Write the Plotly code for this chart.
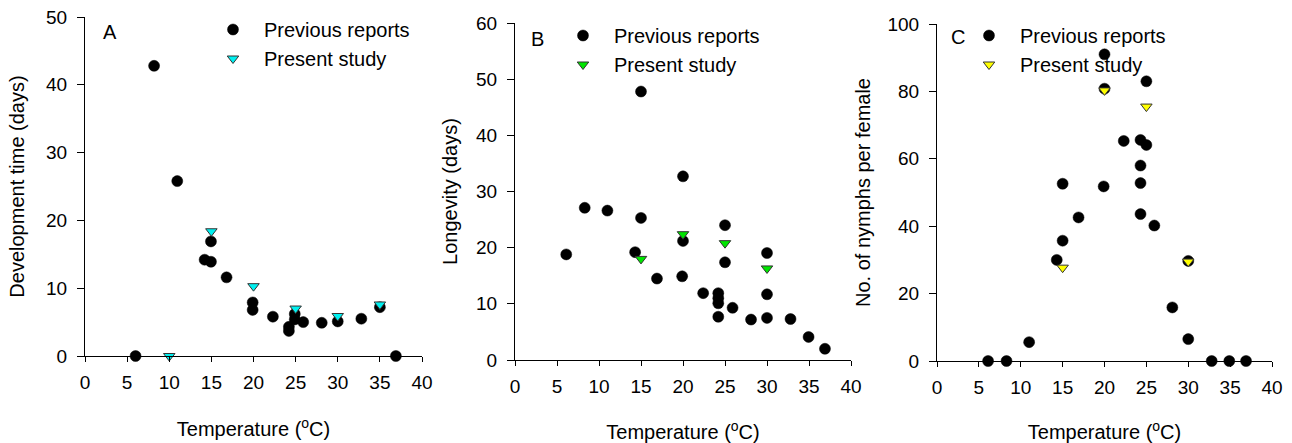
import plotly.graph_objects as go

# ---------------- data ----------------
# Panel A: development time (days)
a_prev_x = [6.0, 8.2, 10.95, 14.95, 14.2, 14.95, 16.8, 19.9, 19.9, 22.3, 24.2, 24.2, 24.9, 24.9, 25.9, 28.1, 30.0, 32.8, 35.0, 36.9]
a_prev_y = [0.0, 42.8, 25.8, 16.9, 14.2, 13.9, 11.6, 7.9, 6.8, 5.8, 4.3, 3.7, 6.2, 5.4, 5.0, 4.9, 5.1, 5.5, 7.2, 0.0]
a_pres_x = [10.0, 15.0, 20.0, 25.0, 30.0, 35.0]
a_pres_y = [0.0, 18.4, 10.3, 7.0, 5.9, 7.6]

# Panel B: longevity (days)
b_prev_x = [6.1, 8.3, 11.0, 15.0, 15.0, 14.3, 16.9, 20.0, 20.0, 19.9, 22.4, 24.2, 24.2, 24.2, 24.2, 25.0, 25.0, 25.9, 28.1, 30.0, 30.0, 30.0, 32.8, 34.95, 36.9]
b_prev_y = [18.8, 27.1, 26.6, 47.8, 25.3, 19.2, 14.5, 32.7, 21.2, 14.9, 11.9, 11.9, 11.0, 10.1, 7.7, 24.0, 17.4, 9.3, 7.2, 19.05, 11.7, 7.5, 7.3, 4.1, 2.0]
b_pres_x = [15.0, 20.0, 25.0, 30.0]
b_pres_y = [18.0, 22.4, 20.8, 16.3]

# Panel C: number of nymphs per female
c_prev_x = [6.1, 8.3, 11.0, 14.3, 15.0, 15.0, 16.9, 20.0, 19.9, 20.0, 22.3, 24.3, 25.0, 25.0, 24.3, 24.3, 24.3, 25.95, 28.1, 30.0, 30.0, 32.8, 34.9, 36.9]
c_prev_y = [0.0, 0.0, 5.6, 30.0, 35.7, 52.6, 42.6, 91.0, 51.8, 80.8, 65.3, 65.6, 64.1, 83.0, 58.0, 52.8, 43.6, 40.2, 15.9, 6.5, 29.7, 0.0, 0.0, 0.0]
c_pres_x = [15.0, 20.0, 25.0, 30.0]
c_pres_y = [27.7, 80.3, 75.5, 29.5]

y_titles = ["Development time (days)", "Longevity (days)", "No. of nymphs per female"]
y_ranges = [[0, 50], [0, 60], [0, 100]]
y_dticks = [10, 10, 20]
panel_labels = ["A", "B", "C"]
tri_colors = ["#00F0F0", "#00E600", "#FFFF00"]
legend_names = ["Previous reports", "Present study"]
x_title = "Temperature (<sup>o</sup>C)"

# ---------------- layout geometry ----------------
W, H = 1292, 443
xdom_px = [(85, 422), (515, 851), (937, 1272)]
ydom_px = [(17, 356), (23, 360), (24, 361)]
label_px = [(110, 32), (537, 39), (958, 37)]
legend_px = [(202, 10), (552, 16), (958, 16)]
ytitle_standoff = [16, 13, 11]

FONT = "Liberation Sans, Arial, sans-serif"

fig = go.Figure()
prev = [(a_prev_x, a_prev_y), (b_prev_x, b_prev_y), (c_prev_x, c_prev_y)]
pres = [(a_pres_x, a_pres_y), (b_pres_x, b_pres_y), (c_pres_x, c_pres_y)]

for i in range(3):
    ax = "" if i == 0 else str(i + 1)
    lg = "legend" if i == 0 else f"legend{i + 1}"
    fig.add_trace(go.Scatter(
        x=prev[i][0], y=prev[i][1], mode="markers", name=legend_names[0],
        xaxis="x" + ax, yaxis="y" + ax, legend=lg, cliponaxis=False,
        marker=dict(symbol="circle", size=11, color="black",
                    line=dict(color="black", width=0.5))))
    fig.add_trace(go.Scatter(
        x=pres[i][0], y=pres[i][1], mode="markers", name=legend_names[1],
        xaxis="x" + ax, yaxis="y" + ax, legend=lg, cliponaxis=False,
        marker=dict(symbol="triangle-down", size=10, color=tri_colors[i],
                    line=dict(color="#333333", width=1))))

    axis_common = dict(showline=True, linecolor="black", linewidth=1,
                       ticks="outside", tickwidth=1, tickcolor="black",
                       showgrid=False, zeroline=False, automargin=False,
                       tickfont=dict(family=FONT, size=19, color="black"))
    x0, x1 = xdom_px[i]
    y0, y1 = ydom_px[i]
    fig.layout["xaxis" + ax] = dict(
        domain=[x0 / W, x1 / W], range=[0, 40], dtick=5, tick0=0,
        anchor="y" + ax, ticklen=5, ticklabelstandoff=4,
        title=dict(text=x_title, font=dict(family=FONT, size=20, color="black"), standoff=30),
        **axis_common)
    fig.layout["yaxis" + ax] = dict(
        domain=[1 - y1 / H, 1 - y0 / H], range=y_ranges[i], dtick=y_dticks[i], tick0=0,
        anchor="x" + ax, ticklen=7, ticklabelstandoff=6,
        title=dict(text=y_titles[i], font=dict(family=FONT, size=20, color="black"),
                   standoff=ytitle_standoff[i]),
        **axis_common)

    lx, ly = legend_px[i]
    fig.layout[lg] = dict(x=lx / W, y=1 - ly / H, xanchor="left", yanchor="top",
                          bgcolor="rgba(0,0,0,0)", itemwidth=52, tracegroupgap=0,
                          font=dict(family=FONT, size=20, color="black"))

    px, py = label_px[i]
    fig.add_annotation(x=px / W, y=1 - py / H, xref="paper", yref="paper",
                       xanchor="center", yanchor="middle",
                       text=panel_labels[i], showarrow=False,
                       font=dict(family=FONT, size=20, color="black"))

fig.update_layout(width=W, height=H, margin=dict(l=0, r=0, t=0, b=0),
                  plot_bgcolor="white", paper_bgcolor="white", showlegend=True)

fig.write_html("out.html")
